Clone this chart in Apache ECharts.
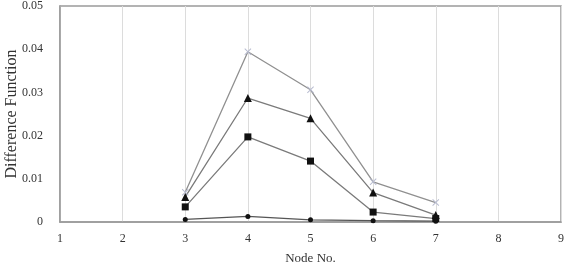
<!DOCTYPE html>
<html><head><meta charset="utf-8">
<script src="https://cdn.jsdelivr.net/npm/echarts@6/dist/echarts.min.js"></script>
<style>html,body{margin:0;padding:0;background:#fff}#c{width:569px;height:266px}</style>
</head><body><div id="c"></div>
<script>
const nodes = [3, 4, 5, 6, 7];
const circleVals = [0.0006, 0.0013, 0.0005, 0.0003, 0.0002];
const squareVals = [0.0035, 0.0197, 0.0141, 0.0023, 0.0008];
const triangleVals = [0.0058, 0.0287, 0.0240, 0.0068, 0.0016];
const crossVals = [0.0069, 0.0394, 0.0306, 0.0093, 0.0045];
const xTicks = [1, 2, 3, 4, 5, 6, 7, 8, 9];
const yTicks = [0, 0.01, 0.02, 0.03, 0.04, 0.05];

const font = 'Liberation Serif, Times New Roman, serif';
function mk(vals){ return nodes.map((n,i)=>[n, vals[i]]); }
const chart = echarts.init(document.getElementById('c'));
chart.setOption({
  animation:false,
  grid:{left:60, right:8, top:6, bottom:44, show:true, borderColor:'#9a9a9a', borderWidth:1.5,
    containLabel:false, outerBoundsMode:'none'},
  xAxis:{type:'value', min:xTicks[0], max:xTicks[xTicks.length-1], interval:1,
    name:'Node No.', nameLocation:'middle', nameGap:30, nameMoveOverlap:false,
    nameTextStyle:{fontFamily:font, fontSize:13, color:'#333'},
    axisLine:{show:true, lineStyle:{color:'#9a9a9a', width:1.5}}, axisTick:{show:false},
    axisLabel:{fontFamily:font, fontSize:12, color:'#333', margin:11},
    splitLine:{show:true, lineStyle:{color:'#dcdcdc', width:1}}},
  yAxis:{type:'value', min:yTicks[0], max:yTicks[yTicks.length-1], interval:0.01,
    name:'Difference Function', nameLocation:'middle', nameGap:40, nameMoveOverlap:false,
    nameTextStyle:{fontFamily:font, fontSize:16, color:'#333'},
    axisLine:{show:true, lineStyle:{color:'#9a9a9a', width:1.5}}, axisTick:{show:false},
    axisLabel:{fontFamily:font, fontSize:12, color:'#333', margin:17,
      formatter:v=> v===0 ? '0' : v.toFixed(2)},
    splitLine:{show:false}},
  series:[
    {type:'line', data:mk(crossVals), symbol:'path://M1,0L5,4L9,0L10,1L6,5L10,9L9,10L5,6L1,10L0,9L4,5L0,1Z', symbolSize:7,
      itemStyle:{color:'#b8bcd0'}, lineStyle:{color:'#909090', width:1.3}},
    {type:'line', data:mk(triangleVals), symbol:'triangle', symbolSize:8,
      itemStyle:{color:'#111'}, lineStyle:{color:'#7a7a7a', width:1.3}},
    {type:'line', data:mk(squareVals), symbol:'rect', symbolSize:7,
      itemStyle:{color:'#111'}, lineStyle:{color:'#7a7a7a', width:1.3}},
    {type:'line', data:mk(circleVals), symbol:'circle', symbolSize:5,
      itemStyle:{color:'#111'}, lineStyle:{color:'#555', width:1.3}}
  ]
});
</script></body></html>
